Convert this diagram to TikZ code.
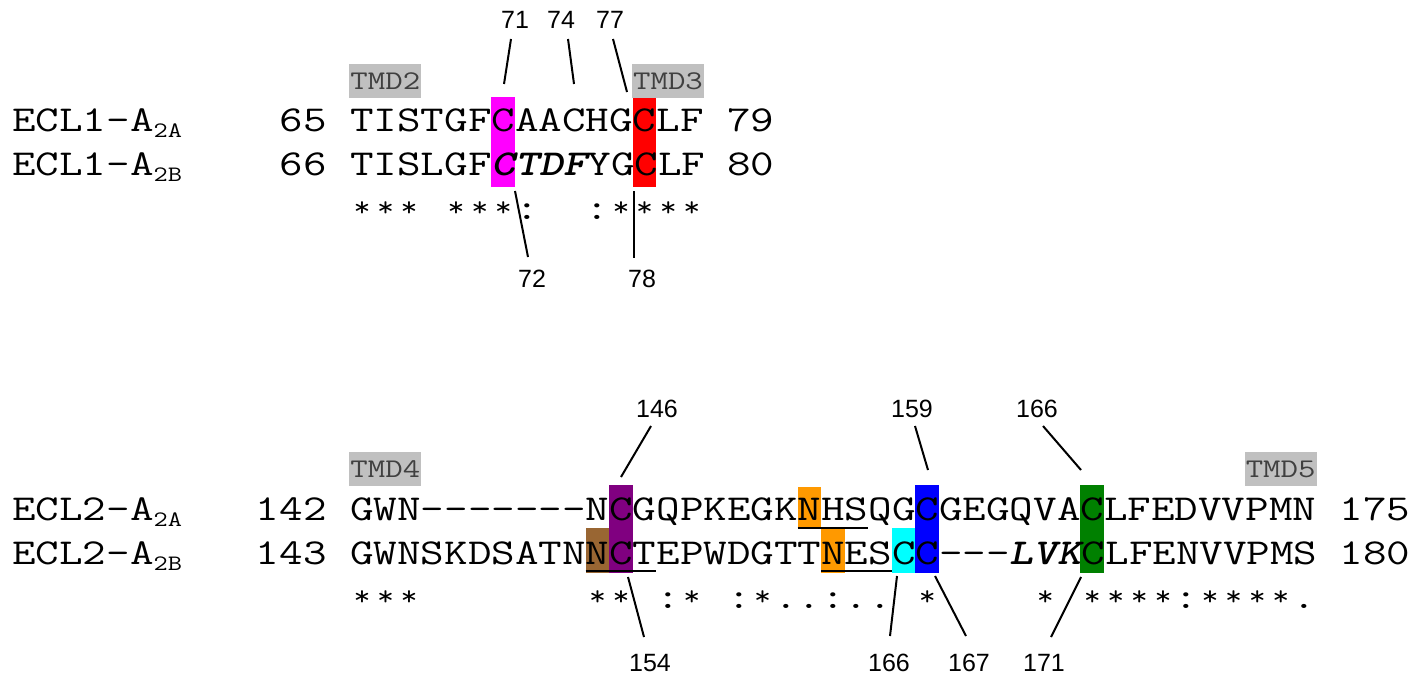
\documentclass[tikz,border=0pt]{standalone}
\usepackage{fontspec}
\setmainfont{Liberation Sans}
\usepackage{graphicx}
\definecolor{hlmag}{HTML}{FF00FF}
\definecolor{hlred}{HTML}{FF0000}
\definecolor{hlpur}{HTML}{800080}
\definecolor{hlbrn}{HTML}{996633}
\definecolor{hlorg}{HTML}{FF9900}
\definecolor{hlcyn}{HTML}{00FFFF}
\definecolor{hlblu}{HTML}{0000FF}
\definecolor{hlgrn}{HTML}{008000}
\definecolor{tmdbg}{HTML}{C0C0C0}
\definecolor{tmdfg}{HTML}{404040}
\newcommand\W{23.56}
\newlength\cwid
\newlength\onech
\newcommand\cs[1]{\scalebox{\cscale}[1]{#1}}
\newcommand\subs[1]{\raisebox{-6pt}{\fontsize{22}{22}\selectfont #1}}
\newcommand\bi[1]{{\fontseries{b}\fontshape{sl}\selectfont #1}}
\newcommand\st{\makebox[\onech]{\raisebox{2.5pt}{\scalebox{0.72}[0.78]{*}}}}
\begin{document}
\settowidth\cwid{\ttfamily\fontsize{36.5}{37}\selectfont MMMMMMMMMM}
\setlength\onech{0.1\cwid}
\pgfmathsetmacro\cscale{235.6/\cwid}
\begin{tikzpicture}[x=1pt,y=-1pt,
  seq/.style={anchor=base west, inner sep=0pt, font=\ttfamily\fontsize{36.5}{37}\selectfont},
  lab/.style={inner sep=0pt, font=\fontsize{25}{25}\selectfont},
  tmd/.style={fill=tmdbg, minimum width=72pt, minimum height=34pt, inner sep=0pt, text=tmdfg, font=\ttfamily\fontsize{27}{27}\selectfont},
  conn/.style={line width=2pt},
  uline/.style={line width=2pt}]
\useasboundingbox (0,0) rectangle (1412,677);

% ---------- ECL1 ----------
\fill[hlmag] ({350+6*\W},97) rectangle ({350+7*\W},187);
\fill[hlred] ({350+12*\W},97) rectangle ({350+13*\W},187);
\node[tmd] (tmd2) at ({350+1.5*\W},81) {\cs{TMD2}};
\node[tmd] (tmd3) at ({350+13.5*\W},81) {\cs{TMD3}};
\node[seq] (n1a) at (12,131) {\cs{ECL1-A\subs{2A}}};
\node[seq] (p1a) at ({350-3*\W},131) {\cs{65}};
\node[seq] (s1a) at (350,131) {\cs{TISTGFCAACHGCLF}};
\node[seq] (e1a) at ({350+16*\W},131) {\cs{79}};
\node[seq] (n1b) at (12,175) {\cs{ECL1-A\subs{2B}}};
\node[seq] (p1b) at ({350-3*\W},175) {\cs{66}};
\node[seq] (s1b) at (350,175) {\cs{TISLGF\bi{CTDF}YGCLF}};
\node[seq] (e1b) at ({350+16*\W},175) {\cs{80}};
\node[seq] (k1a) at (350,219) {\cs{\st\st\st}};
\node[seq] (k1b) at ({350+4*\W},219) {\cs{\st\st\st:}};
\node[seq] (k1c) at ({350+10*\W},219) {\cs{:\st\st\st\st}};
\node[lab] (l71) at (515,20) {71};
\node[lab] (l74) at (561,20) {74};
\node[lab] (l77) at (610,20) {77};
\node[lab] (l72) at (532,279) {72};
\node[lab] (l78) at (642,279) {78};
\coordinate (c71a) at (511,39);  \coordinate (c71b) at (504,84);
\coordinate (c74a) at (568,39);  \coordinate (c74b) at (574,84);
\coordinate (c77a) at (613,39);  \coordinate (c77b) at (627,92);
\coordinate (c72a) at (515,191); \coordinate (c72b) at (528,257);
\coordinate (c78a) at (634,191); \coordinate (c78b) at (634,258);
\draw[conn] (c71a) -- (c71b);
\draw[conn] (c74a) -- (c74b);
\draw[conn] (c77a) -- (c77b);
\draw[conn] (c72a) -- (c72b);
\draw[conn] (c78a) -- (c78b);

% ---------- ECL2 ----------
\fill[hlpur] ({350+11*\W},485) rectangle ({350+12*\W},573);
\fill[hlblu] ({350+24*\W},485) rectangle ({350+25*\W},573);
\fill[hlgrn] ({350+31*\W},485) rectangle ({350+32*\W},573);
\fill[hlorg] ({350+19*\W},487) rectangle ({350+20*\W},528);
\fill[hlorg] ({350+20*\W},528) rectangle ({350+21*\W},573);
\fill[hlbrn] ({350+10*\W},528) rectangle ({350+11*\W},573);
\fill[hlcyn] ({350+23*\W},528) rectangle ({350+24*\W},573);
\node[tmd] (tmd4) at ({350+1.5*\W},469) {\cs{TMD4}};
\node[tmd] (tmd5) at ({350+39.5*\W},469) {\cs{TMD5}};
\node[seq] (n2a) at (12,520) {\cs{ECL2-A\subs{2A}}};
\node[seq] (p2a) at ({350-4*\W},520) {\cs{142}};
\node[seq] (s2a) at (350,520) {\cs{GWN-------NCGQPKEGKNHSQGCGEGQVACLFEDVVPMN}};
\node[seq] (e2a) at ({350+42*\W},520) {\cs{175}};
\node[seq] (n2b) at (12,564) {\cs{ECL2-A\subs{2B}}};
\node[seq] (p2b) at ({350-4*\W},564) {\cs{143}};
\node[seq] (s2b) at (350,564) {\cs{GWNSKDSATNNCTEPWDGTTNESCC---\bi{LVK}CLFENVVPMS}};
\node[seq] (e2b) at ({350+42*\W},564) {\cs{180}};
\node[seq] (k2a) at (350,608) {\cs{\st\st\st}};
\node[seq] (k2b) at ({350+10*\W},608) {\cs{\st\st}};
\node[seq] (k2c) at ({350+13*\W},608) {\cs{:\st}};
\node[seq] (k2d) at ({350+16*\W},608) {\cs{:\st..:..}};
\node[seq] (k2e) at ({350+24*\W},608) {\cs{\st}};
\node[seq] (k2f) at ({350+29*\W},608) {\cs{\st}};
\node[seq] (k2g) at ({350+31*\W},608) {\cs{\st\st\st\st:\st\st\st\st.}};
\draw[uline] ({350+19*\W},528) -- ({350+22*\W},528);
\draw[uline] ({350+10*\W},571) -- ({350+13*\W},571);
\draw[uline] ({350+20*\W},571) -- ({350+23*\W},571);
\node[lab] (l146) at (657,409) {146};
\node[lab] (l159) at (912,409) {159};
\node[lab] (l166t) at (1037,409) {166};
\node[lab] (l154) at (650,663) {154};
\node[lab] (l166b) at (889,663) {166};
\node[lab] (l167) at (969,663) {167};
\node[lab] (l171) at (1044,663) {171};
\coordinate (c146a) at (651,426);  \coordinate (c146b) at (621,477);
\coordinate (c159a) at (915,426);  \coordinate (c159b) at (928,470);
\coordinate (c166a) at (1043,426); \coordinate (c166b) at (1081,470);
\coordinate (c154a) at (628,577);  \coordinate (c154b) at (644,637);
\coordinate (c166c) at (897,576);  \coordinate (c166d) at (890,636);
\coordinate (c167a) at (935,576);  \coordinate (c167b) at (966,636);
\coordinate (c171a) at (1081,577); \coordinate (c171b) at (1051,637);
\draw[conn] (c146a) -- (c146b);
\draw[conn] (c159a) -- (c159b);
\draw[conn] (c166a) -- (c166b);
\draw[conn] (c154a) -- (c154b);
\draw[conn] (c166c) -- (c166d);
\draw[conn] (c167a) -- (c167b);
\draw[conn] (c171a) -- (c171b);
\end{tikzpicture}
\end{document}
